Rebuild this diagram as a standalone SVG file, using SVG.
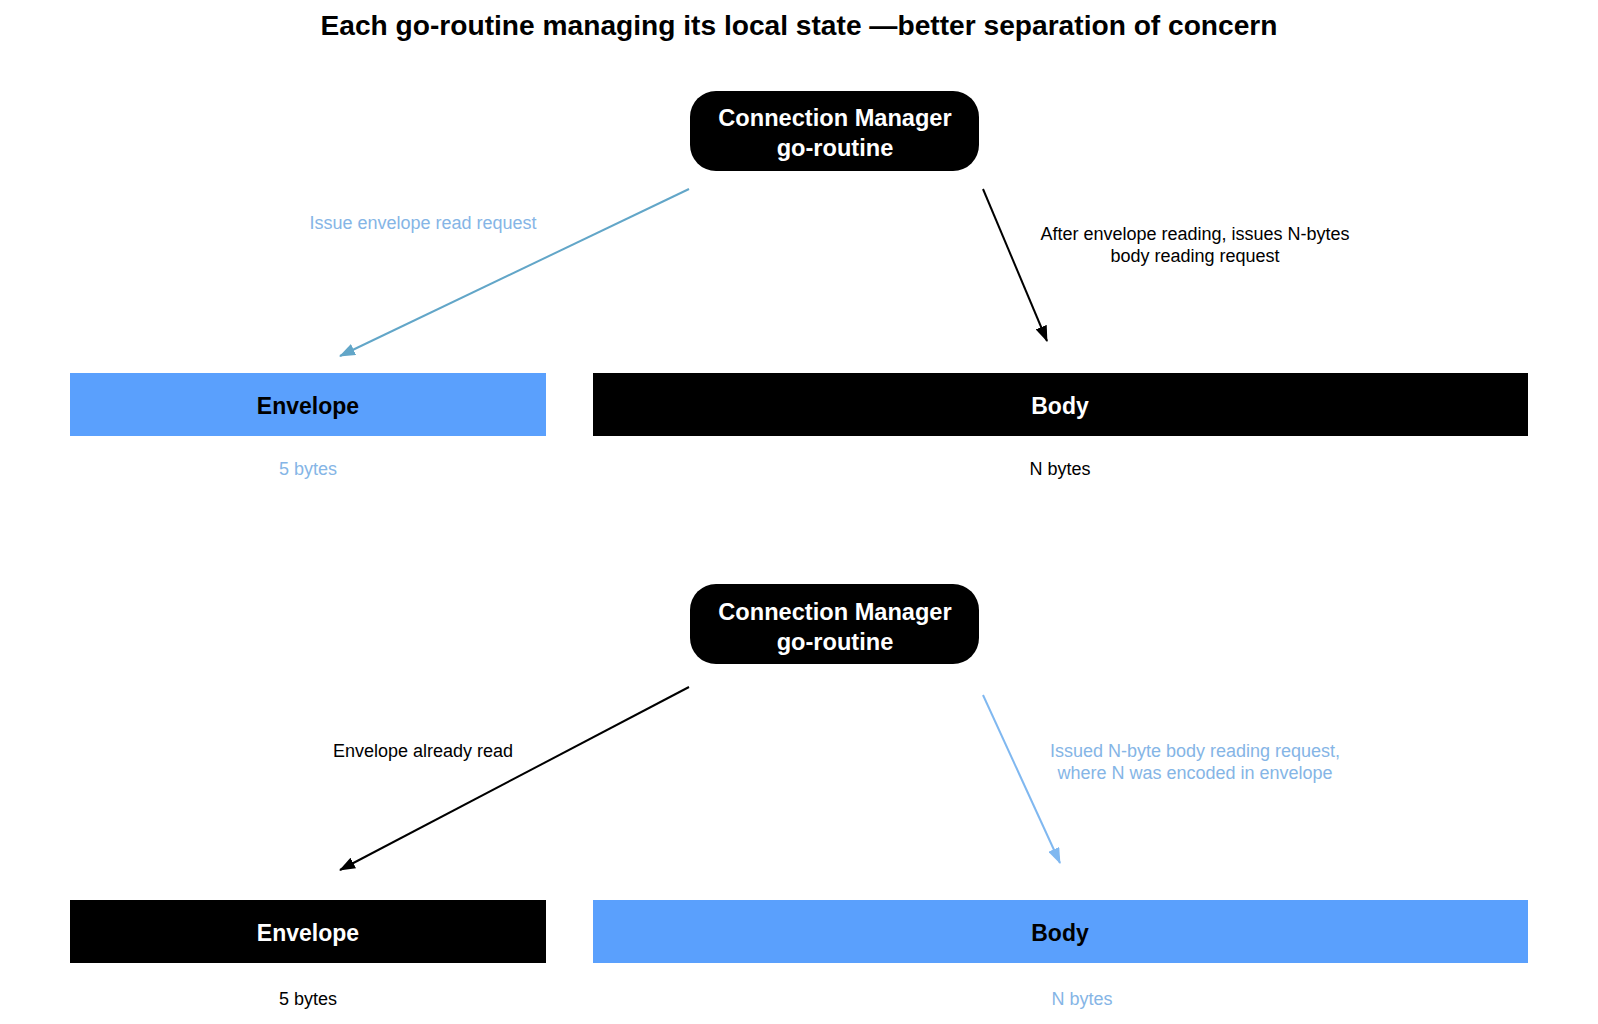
<svg xmlns="http://www.w3.org/2000/svg" width="1598" height="1024" viewBox="0 0 1598 1024">
<style>
text{font-family:"Liberation Sans",Arial,sans-serif;text-anchor:middle;dominant-baseline:central}
.title{font-size:27px;font-weight:bold;fill:#000}
.node{font-size:23.6px;font-weight:bold;fill:#fff}
.seg{font-size:23px;font-weight:bold}
.lbl{font-size:18px}
.blk{fill:#000}
.blu{fill:#85b5e6}
</style>
<defs>
<marker id="ahSteel" viewBox="0 0 16 12" refX="15" refY="6" markerWidth="16" markerHeight="12" markerUnits="userSpaceOnUse" orient="auto"><path d="M0,0 L16,6 L0,12 z" fill="#62a6c8"/></marker>
<marker id="ahBlack" viewBox="0 0 16 12" refX="15" refY="6" markerWidth="16" markerHeight="12" markerUnits="userSpaceOnUse" orient="auto"><path d="M0,0 L16,6 L0,12 z" fill="#000"/></marker>
<marker id="ahBlue" viewBox="0 0 16 12" refX="15" refY="6" markerWidth="16" markerHeight="12" markerUnits="userSpaceOnUse" orient="auto"><path d="M0,0 L16,6 L0,12 z" fill="#80b8f0"/></marker>
</defs>
<rect width="1598" height="1024" fill="#fff"/>
<text class="title" x="799" y="26" textLength="957" lengthAdjust="spacingAndGlyphs">Each go-routine managing its local state —better separation of concern</text>

<g id="cm-top">
<rect x="690" y="91" width="289" height="80" rx="26" fill="#000"/>
<text class="node" x="835" y="118">Connection Manager</text>
<text class="node" x="835" y="148">go-routine</text>
</g>
<g id="envelope-top">
<rect x="70" y="373" width="476" height="63" fill="#5aa0fd"/>
<text class="seg" x="308" y="406" fill="#000">Envelope</text>
<text class="lbl blu" x="308" y="469">5 bytes</text>
</g>
<g id="body-top">
<rect x="593" y="373" width="935" height="63" fill="#000"/>
<text class="seg" x="1060" y="406" fill="#fff">Body</text>
<text class="lbl blk" x="1060" y="469">N bytes</text>
</g>

<g id="cm-bottom">
<rect x="690" y="584" width="289" height="80" rx="26" fill="#000"/>
<text class="node" x="835" y="612">Connection Manager</text>
<text class="node" x="835" y="642">go-routine</text>
</g>
<g id="envelope-bottom">
<rect x="70" y="900" width="476" height="63" fill="#000"/>
<text class="seg" x="308" y="933" fill="#fff">Envelope</text>
<text class="lbl blk" x="308" y="999">5 bytes</text>
</g>
<g id="body-bottom">
<rect x="593" y="900" width="935" height="63" fill="#5aa0fd"/>
<text class="seg" x="1060" y="933" fill="#000">Body</text>
<text class="lbl blu" x="1082" y="999">N bytes</text>
</g>

<g id="connectors" fill="none" stroke-width="2">
<line x1="689" y1="189" x2="340" y2="356" stroke="#62a6c8" marker-end="url(#ahSteel)"/>
<line x1="983" y1="189" x2="1047" y2="341" stroke="#000" marker-end="url(#ahBlack)"/>
<line x1="689" y1="687" x2="340" y2="870" stroke="#000" marker-end="url(#ahBlack)"/>
<line x1="983" y1="695" x2="1060" y2="863" stroke="#80b8f0" marker-end="url(#ahBlue)"/>
</g>
<g id="labels">
<text class="lbl blu" x="423" y="223">Issue envelope read request</text>
<text class="lbl blk" x="1195" y="234">After envelope reading, issues N-bytes</text>
<text class="lbl blk" x="1195" y="256">body reading request</text>
<text class="lbl blk" x="423" y="751">Envelope already read</text>
<text class="lbl blu" x="1195" y="751">Issued N-byte body reading request,</text>
<text class="lbl blu" x="1195" y="773">where N was encoded in envelope</text>
</g>
</svg>
